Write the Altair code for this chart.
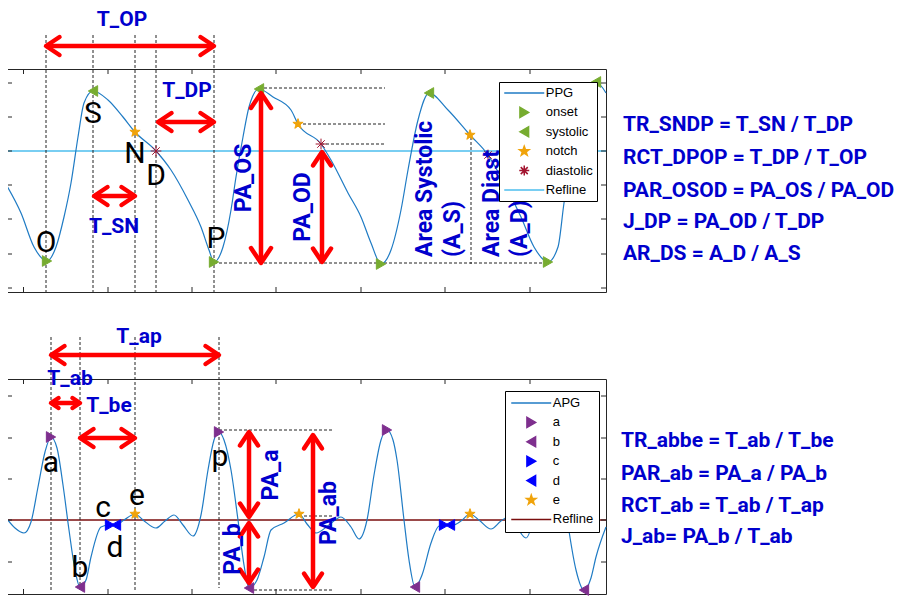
import altair as alt
import pandas as pd

# ---------------- top panel : PPG ----------------
ppg_x = [0,14,27,40,49,57,64,71,77,86,101,116,128,149,164,181,194,202,207,216,224,229,236,242,252,266,284,291,314,324,341,354,364,374,384,394,401,411,422,441,463,481,497,514,527,541,551,557,564,574,589,599]
ppg_y = [106,79,45,31,45,75,109,155,189,201,192,175,160,141,122,92,65,42,30,45,82,115,155,185,203,195,182,168,148,132,99,75,49,28,42,82,122,172,199,182,157,137,109,75,45,30,45,89,132,180,210,199]

onset_x = [40, 207, 374, 541]
onset_y = [31, 30, 28, 30]
sys_x = [86, 252, 422, 589]
sys_y = [201, 203, 199, 210]
notch_x = [128, 291, 463]
notch_y = [160, 168, 157]
dias_x = [149, 314, 481]
dias_y = [141, 148, 137]
ppg_ref = [141]

top_arrows = [  # x1, y1, x2, y2, head size
    (39, 246, 207, 246, 324),
    (151, 170, 207, 170, 324),
    (87, 96, 128, 96, 324),
    (254, 199, 254, 29, 400),
    (315, 140, 315, 30, 324),
]
top_dashed = [
    (39, 257, 39, 0), (86, 257, 86, 0), (128, 257, 128, 0), (149, 257, 149, 0), (207, 257, 207, 0),
    (252, 204, 378, 204), (291, 168, 378, 168), (314, 148, 378, 148), (207, 29, 541, 29),
    (464, 155, 464, 28),
]
top_lbl_t = ["T_OP", "T_DP", "T_SN"]
top_lbl_x = [115, 180, 107]
top_lbl_y = [266, 195, 59]
top_let_t = ["O", "S", "N", "D", "P"]
top_let_x = [39, 86, 128, 149, 209]
top_let_y = [40, 169, 129, 107, 44]
top_rotc_t = ["PA_OS", "PA_OD"]
top_rotc_x = [237, 296]
top_rotc_y = [114, 85]
top_rotl_t = ["Area Systolic", "(A_S)", "Area Diast", "(A_D)"]
top_rotl_x = [418, 446, 485, 513]
top_rotl_y = [35, 35, 35, 35]
top_form_t = ["TR_SNDP = T_SN / T_DP", "RCT_DPOP = T_DP / T_OP", "PAR_OSOD = PA_OS / PA_OD",
              "J_DP = PA_OD / T_DP", "AR_DS = A_D / A_S"]
top_form_y = [161, 128, 95, 64, 32]
top_form_x = 616
top_xticks = [16.5, 101, 185, 269, 354, 438, 523]
top_yticks = [209, 175, 141, 107, 73, 38, 4]

# ---------------- bottom panel : APG ----------------
apg_x = [0,8,17,24,31,38,44,50,56,62,68,73,79,84,94,102,109,117,128,136,149,158,167,176,186,194,201,207,212,217,224,231,237,242,250,257,264,277,292,300,309,322,334,344,352,360,367,374,380,386,390,397,402,408,415,424,432,439,446,454,463,472,484,494,501,509,519,527,534,541,548,555,562,569,577,584,589,599]
apg_y = [81,72,67,78,113,148,163,152,115,70,30,13,20,43,73,75,75,80,86,80,72,79,85,75,64,85,130,160,168,160,130,80,35,12,20,43,70,77,86,76,67,75,83,73,61,80,125,160,170,160,140,80,40,13,25,57,74,75,75,79,86,80,71,79,83,74,62,85,130,160,170,120,69,30,10,22,43,73]

a_x = [44, 212, 380, 548]
a_y = [163, 168, 170, 170]
b_x = [73, 242, 408, 577]
b_y = [13, 12, 13, 10]
c_x = [103, 437]
c_y = [75, 75]
d_x = [109, 443]
d_y = [75, 75]
e_x = [128, 292, 463]
e_y = [86, 86, 86]
apg_ref = [80]

bot_arrows = [
    (44, 245, 212, 245, 324),
    (44, 197, 73, 197, 100),
    (73, 162, 128, 162, 324),
    (242, 168, 242, 83, 324),
    (242, 77, 242, 17, 324),
    (306, 165, 306, 13, 324),
]
bot_dashed = [
    (44, 263, 44, 8), (73, 263, 73, 8), (128, 263, 128, 8), (212, 263, 212, 12),
    (212, 170, 327, 170), (242, 10, 327, 10), (292, 84, 327, 84),
]
bot_lbl_t = ["T_ap", "T_ab", "T_be"]
bot_lbl_x = [132, 63, 102]
bot_lbl_y = [257, 215, 188]
bot_let_t = ["a", "b", "c", "d", "e", "p"]
bot_let_x = [44, 73, 96, 108, 130, 213]
bot_let_y = [128, 23, 83, 43, 95, 134]
bot_rot_t = ["PA_a", "PA_b", "PA_ab"]
bot_rot_x = [264, 226, 322]
bot_rot_y = [125, 51, 87]
bot_form_t = ["TR_abbe = T_ab / T_be", "PAR_ab = PA_a / PA_b", "RCT_ab = T_ab / T_ap", "J_ab= PA_b / T_ab"]
bot_form_y = [153, 120, 88, 57]
bot_form_x = 614
bot_yticks = [204, 162, 121, 80, 38]

# ---------------- style ----------------
W = 599
H1 = 223
H2 = 215
XDOM = [0, 599]
Y1DOM = [0, 223]
Y2DOM = [6, 221]
TXT_BLUE = "#0000CD"
RED = "#FF0000"
FRAME = "#262626"
LINE_BLUE = "#1F7BC4"
GREEN = "#77AC30"
ORANGE = "#F0A30A"
DARKRED = "#A2142F"
PURPLE = "#7E2F8E"
PURE_BLUE = "#0000FF"
LIGHT_BLUE = "#4DBEEE"
MAROON = "#7A0E0E"

CHEVRON = "M-1.5,-1L0,0L-1.5,1"
STAR = "M0,-1L0.235,-0.324L0.951,-0.309L0.38,0.124L0.588,0.809L0,0.4L-0.588,0.809L-0.38,0.124L-0.951,-0.309L-0.235,-0.324Z"
ASTER = "M0,-1L0,1M-1,0L1,0M-0.7,-0.7L0.7,0.7M-0.7,0.7L0.7,-0.7"
LINE_SYM = "M-4,0L4,0"


def sc(dom):
    return alt.Scale(domain=dom, nice=False, zero=False)


def X(f, dom):
    return alt.X(f, type="quantitative", scale=sc(dom), axis=None)


def Y(f, dom):
    return alt.Y(f, type="quantitative", scale=sc(dom), axis=None)


def segs_df(segs):
    return pd.DataFrame([{"x1": s[0], "y1": s[1], "x2": s[2], "y2": s[3]} for s in segs])


def heads_df(arrows):
    rows = []
    for x1, y1, x2, y2, s in arrows:
        if y1 == y2:
            lo, hi = (x1, x2) if x1 < x2 else (x2, x1)
            rows.append({"x": lo, "y": y1, "ang": 180, "sz": s})
            rows.append({"x": hi, "y": y1, "ang": 0, "sz": s})
        else:
            lo, hi = (y1, y2) if y1 < y2 else (y2, y1)
            rows.append({"x": x1, "y": hi, "ang": 270, "sz": s})
            rows.append({"x": x1, "y": lo, "ang": 90, "sz": s})
    return pd.DataFrame(rows)


def text_layer(ts, xs_, ys_, dom_y, **kw):
    df = pd.DataFrame({"t": ts, "x": xs_, "y": ys_})
    return alt.Chart(df).mark_text(**kw).encode(x=X("x", XDOM), y=Y("y", dom_y), text="t:N")


def ticks_layers(xt, yt, dom_y, H):
    dx = pd.DataFrame({"v": xt})
    dy = pd.DataFrame({"v": yt})
    st = dict(color=FRAME, strokeWidth=1)
    return [
        alt.Chart(dx).mark_rule(**st).encode(x=X("v", XDOM), y=alt.value(0), y2=alt.value(5)),
        alt.Chart(dx).mark_rule(**st).encode(x=X("v", XDOM), y=alt.value(H), y2=alt.value(H - 5)),
        alt.Chart(dy).mark_rule(**st).encode(y=Y("v", dom_y), x=alt.value(0), x2=alt.value(5)),
        alt.Chart(dy).mark_rule(**st).encode(y=Y("v", dom_y), x=alt.value(W), x2=alt.value(W - 5)),
    ]


def make_legend(lx, ly, pad):
    return alt.Legend(title=None, orient="none", legendX=lx, legendY=ly, fillColor="white",
                      strokeColor="#000000", padding=pad, cornerRadius=0,
                      labelFont="Liberation Sans", labelFontSize=13, labelColor="black",
                      symbolSize=100, symbolStrokeWidth=1.5, symbolOffset=14.75, labelOffset=15,
                      clipHeight=14, rowPadding=5.4, zindex=1)


def panel(H, dom_y, cx, cy, ccolor, ref, rcolor, mk_df, field, kinds, shapes, fills, strokes, leg,
          dashed, arrows, lbl, let, rotc, rotl, form, form_x, yticks):
    layers = []
    layers.append(alt.Chart(pd.DataFrame({"y": ref})).mark_rule(color=rcolor, strokeWidth=1.5)
                  .encode(y=Y("y", dom_y)))
    layers.append(alt.Chart(segs_df(dashed)).mark_rule(color="#222222", strokeWidth=1, strokeDash=[3, 2])
                  .encode(x=X("x1", XDOM), y=Y("y1", dom_y), x2="x2:Q", y2="y2:Q"))
    layers.append(alt.Chart(pd.DataFrame({"x": cx, "y": cy}))
                  .mark_line(color=ccolor, strokeWidth=1.2, interpolate="monotone")
                  .encode(x=X("x", XDOM), y=Y("y", dom_y)))
    layers.append(alt.Chart(mk_df).mark_point(filled=True, opacity=1, size=115, strokeWidth=1).encode(
        x=X("x", XDOM), y=Y("y", dom_y),
        shape=alt.Shape(field + ":N", scale=alt.Scale(domain=kinds, range=shapes), legend=leg),
        fill=alt.Fill(field + ":N", scale=alt.Scale(domain=kinds, range=fills), legend=leg),
        stroke=alt.Stroke(field + ":N", scale=alt.Scale(domain=kinds, range=strokes), legend=leg),
    ))
    ad = pd.DataFrame([{"x1": a[0], "y1": a[1], "x2": a[2], "y2": a[3]} for a in arrows])
    layers.append(alt.Chart(ad).mark_rule(color=RED, strokeWidth=4.5)
                  .encode(x=X("x1", XDOM), y=Y("y1", dom_y), x2="x2:Q", y2="y2:Q"))
    layers.append(alt.Chart(heads_df(arrows)).mark_point(shape=CHEVRON, filled=False, color=RED, stroke=RED,
                                                         strokeWidth=4.5, strokeCap="round",
                                                         strokeJoin="round", opacity=1)
                  .encode(x=X("x", XDOM), y=Y("y", dom_y), angle=alt.Angle("ang:Q", scale=None),
                          size=alt.Size("sz:Q", scale=None)))
    layers.append(text_layer(*lbl, dom_y, font="Roboto", fontSize=21, fontWeight="bold", color=TXT_BLUE,
                             align="center", baseline="alphabetic"))
    layers.append(text_layer(*let, dom_y, font="Roboto", fontSize=30, color="black",
                             align="center", baseline="alphabetic"))
    layers.append(text_layer(*rotc, dom_y, font="Roboto", fontSize=23, fontWeight="bold", color=TXT_BLUE,
                             align="center", baseline="middle", angle=270))
    if rotl is not None:
        layers.append(text_layer(*rotl, dom_y, font="Roboto", fontSize=23, fontWeight="bold", color=TXT_BLUE,
                                 align="left", baseline="middle", angle=270))
    ft, fy = form
    layers.append(text_layer(ft, [form_x] * len(ft), fy, dom_y, font="Roboto", fontSize=21,
                             fontWeight="bold", color=TXT_BLUE, align="left", baseline="alphabetic"))
    layers += ticks_layers(top_xticks, yticks, dom_y, H)
    return alt.layer(*layers).properties(width=W, height=H)


top_mk = pd.DataFrame(
    [{"x": x, "y": y, "kind": "onset"} for x, y in zip(onset_x, onset_y)] +
    [{"x": x, "y": y, "kind": "systolic"} for x, y in zip(sys_x, sys_y)] +
    [{"x": x, "y": y, "kind": "notch"} for x, y in zip(notch_x, notch_y)] +
    [{"x": x, "y": y, "kind": "diastolic"} for x, y in zip(dias_x, dias_y)]
)
bot_mk = pd.DataFrame(
    [{"x": x, "y": y, "series": "a"} for x, y in zip(a_x, a_y)] +
    [{"x": x, "y": y, "series": "b"} for x, y in zip(b_x, b_y)] +
    [{"x": x, "y": y, "series": "c"} for x, y in zip(c_x, c_y)] +
    [{"x": x, "y": y, "series": "d"} for x, y in zip(d_x, d_y)] +
    [{"x": x, "y": y, "series": "e"} for x, y in zip(e_x, e_y)]
)

top = panel(H1, Y1DOM, ppg_x, ppg_y, LINE_BLUE, ppg_ref, LIGHT_BLUE, top_mk, "kind",
            ["PPG", "onset", "systolic", "notch", "diastolic", "Refline"],
            [LINE_SYM, "triangle-right", "triangle-left", STAR, ASTER, LINE_SYM],
            [LINE_BLUE, GREEN, GREEN, ORANGE, DARKRED, LIGHT_BLUE],
            [LINE_BLUE, GREEN, GREEN, ORANGE, DARKRED, LIGHT_BLUE],
            make_legend(492, 13, 4), top_dashed, top_arrows,
            (top_lbl_t, top_lbl_x, top_lbl_y), (top_let_t, top_let_x, top_let_y),
            (top_rotc_t, top_rotc_x, top_rotc_y), (top_rotl_t, top_rotl_x, top_rotl_y),
            (top_form_t, top_form_y), top_form_x, top_yticks)

bottom = panel(H2, Y2DOM, apg_x, apg_y, LINE_BLUE, apg_ref, MAROON, bot_mk, "series",
               ["APG", "a", "b", "c", "d", "e", "Refline"],
               [LINE_SYM, "triangle-right", "triangle-left", "triangle-right", "triangle-left", STAR, LINE_SYM],
               [LINE_BLUE, PURPLE, PURPLE, PURE_BLUE, PURE_BLUE, ORANGE, MAROON],
               [LINE_BLUE, PURPLE, PURPLE, PURE_BLUE, PURE_BLUE, ORANGE, MAROON],
               make_legend(498, 12, 5), bot_dashed, bot_arrows,
               (bot_lbl_t, bot_lbl_x, bot_lbl_y), (bot_let_t, bot_let_x, bot_let_y),
               (bot_rot_t, bot_rot_x, bot_rot_y), None,
               (bot_form_t, bot_form_y), bot_form_x, bot_yticks)

chart = (
    alt.vconcat(top, bottom, spacing=87, bounds="flush")
    .resolve_scale(shape="independent", fill="independent", stroke="independent")
    .resolve_legend(shape="independent", fill="independent", stroke="independent")
    .properties(padding={"left": -4, "top": 0, "right": 0, "bottom": 0}, background="white")
    .configure_view(stroke=FRAME, strokeWidth=1)
)

chart.save("out.html", embed_options={"renderer": "svg", "actions": False})
